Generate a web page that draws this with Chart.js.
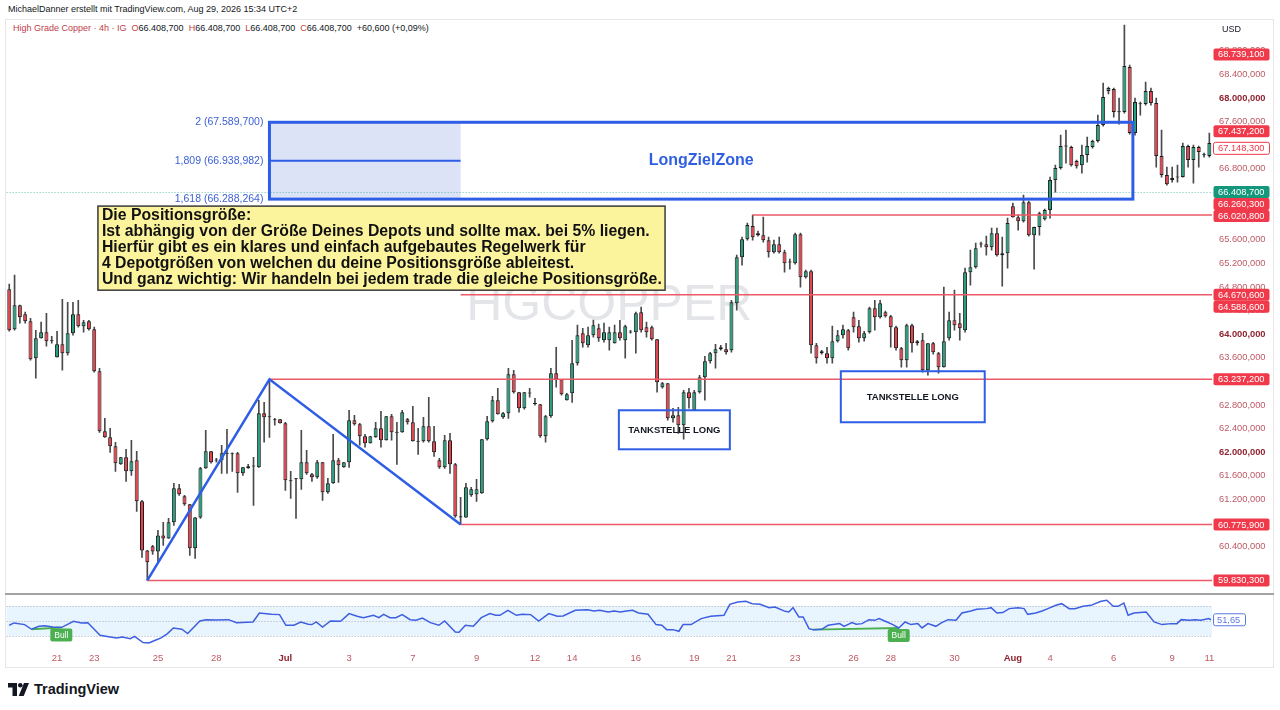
<!DOCTYPE html>
<html lang="de">
<head>
<meta charset="utf-8">
<title>HGCOPPER 4h</title>
<script src="https://cdn.jsdelivr.net/npm/chart.js@4.4.1/dist/chart.umd.min.js"></script>
<style>
  body { margin: 0; width: 1280px; height: 710px; background: #fff; position: relative; overflow: hidden;
         font-family: "Liberation Sans", Arial, sans-serif; color: #131722; }
  .abs { position: absolute; }
  #frame { left: 5px; top: 19px; width: 1269px; height: 649px; border: 1px solid #e6e6e6; box-sizing: border-box; }
  #credit { left: 8px; top: 4px; font-size: 9px; white-space: nowrap; }
  #legend { left: 13px; top: 23px; font-size: 9px; white-space: nowrap; }
  #legend .r { color: #c2404a; }
  #legend .g { margin-left: 5px; }
  #main { left: 0; top: 0; }
  #sep { left: 5px; top: 593px; width: 1269px; height: 2px; background: #a3a3a3; }
  #rsi { left: 0; top: 594px; }
  #brand { left: 8px; top: 681px; display: flex; align-items: center; gap: 5px; font-weight: bold; font-size: 14.5px; }
</style>
</head>
<body>
<div id="frame" class="abs"></div>
<div id="credit" class="abs">MichaelDanner erstellt mit TradingView.com, Aug 29, 2026 15:34 UTC+2</div>
<div id="legend" class="abs"></div>
<canvas id="main" class="abs" width="1280" height="605"></canvas>
<div id="sep" class="abs"></div>
<canvas id="rsi" class="abs" width="1280" height="76"></canvas>
<div id="brand" class="abs">
  <svg width="21" height="13" viewBox="0 0 21 13"><path d="M0 0h9v13h-4.5v-8.5h-4.5z" fill="#131722"/><circle cx="12.3" cy="2.3" r="2.3" fill="#131722"/><path d="M16 0h5l-5.3 13h-5z" fill="#131722"/></svg>
  <span>TradingView</span>
</div>
<script>
// 4h candles, 21 Jun - 11 Aug
const opens = [
  64763, 64085, 64492, 64339, 64220, 63593, 63932, 64034, 63898, 63610,
  63830, 63678, 64017, 64339, 64136, 64220, 64085, 63373, 62356, 62254,
  62102, 61797, 61915, 61678, 61865, 61170, 60339, 60407, 60322, 60593,
  60542, 60814, 61390, 61254, 61119, 60373, 60898, 61729, 62017, 61865,
  61865, 61983, 61983, 61983, 61644, 61729, 61763, 61746, 62661, 62610,
  62559, 62559, 62492, 61525, 61559, 61542, 61831, 61627, 61576, 61831,
  61322, 61475, 61865, 61746, 61831, 62543, 62475, 62271, 62153, 62254,
  62407, 62204, 62610, 62339, 62339, 62559, 62509, 62187, 62187, 62441,
  62187, 61865, 61746, 62204, 61797, 60915, 60898, 61271, 61288, 61305,
  62221, 62526, 62881, 62593, 62661, 63322, 63017, 62746, 63000, 62830,
  62814, 62271, 62610, 63339, 63237, 62881, 63000, 63509, 64017, 63813,
  63983, 64100, 63898, 63898, 63847, 64034, 63898, 64034, 64034, 64373,
  64119, 64119, 63915, 63102, 63170, 62577, 62627, 62458, 63017, 62712,
  63017, 63271, 63543, 63678, 63746, 63746, 63729, 64525, 65305, 65610,
  65831, 65712, 65678, 65593, 65390, 65525, 65390, 65220, 65204, 65695,
  64966, 65068, 63814, 63678, 63678, 63593, 63881, 63983, 64068, 64288,
  64136, 63932, 64034, 64441, 64288, 64373, 64305, 64119, 63763, 63559,
  64153, 63881, 63898, 63390, 63847, 63678, 63441, 63932, 64237, 64187,
  64068, 65051, 65136, 65525, 65525, 65475, 65712, 65339, 65373, 66169,
  65983, 65915, 66237, 65678, 65814, 65949, 66102, 66610, 66814, 67186,
  67170, 66932, 66864, 67034, 67170, 67271, 67542, 68119, 68153, 67763,
  67763, 68525, 67407, 67898, 67898, 68119, 67915, 67017, 66695, 66610,
  66661, 66661, 67186, 66949, 67170, 67034, 67017
];
const highs = [
  64848, 65000, 64492, 64373, 64271, 64068, 64204, 64356, 63966, 64051,
  64593, 64542, 64542, 64576, 64237, 64237, 64119, 63424, 62577, 62407,
  62170, 61915, 62051, 62204, 62017, 61186, 60339, 60424, 60678, 60814,
  60882, 61475, 61458, 61271, 61119, 60898, 61746, 62373, 62017, 61898,
  62119, 62390, 61990, 62000, 61746, 61797, 61915, 62881, 62847, 63237.2,
  62577, 62559, 62509, 61678, 61559, 62373, 62034, 61644, 61865, 61831,
  61559, 62305, 61898, 61831, 62712, 62627, 62492, 62305, 62271, 62509,
  62695, 62610, 62644, 62509, 62712, 62577, 62780, 62407, 62593, 62932,
  62441, 61898, 62288, 62322, 61814, 61237, 61475, 61407, 61542, 62221,
  62610, 62949, 63085, 62678, 63424, 63390, 63017, 63017, 63085, 62915,
  62814, 62627, 63424, 63780, 63237, 63000, 63898, 64153, 64100, 64120,
  64240, 64170, 64187, 64119, 64153, 64237, 64153, 64068, 64373, 64458,
  64204, 64136, 63915, 63187, 63170, 62746, 62763, 63051, 63085, 63051,
  63305, 63627, 63695, 63830, 63813, 63847, 64576, 65339, 65644, 65882,
  66017, 65746, 65983, 65644, 65593, 65644, 65424, 65271, 65712, 65712,
  65085, 65085, 63847, 63729, 63780, 64136, 64068, 64153, 64085, 64373,
  64237, 64051, 64458, 64576, 64576, 64390, 64322, 64136, 63780, 64170,
  64170, 63898, 64017, 63847, 63864, 63695, 64797, 64373, 64746, 64356,
  65119, 65424, 65542, 65559, 65661, 65797, 65797, 65644, 65966, 66220,
  66017, 66356, 66254, 65814, 66068, 66119, 66661, 66864, 67373, 67458,
  67186, 66949, 67203, 67339, 67288, 67712, 68254, 68186, 68170, 68000,
  69237, 68559, 68000, 67932, 68271, 68170, 68000, 67458, 66830, 66830,
  66864, 67237, 67203, 67203, 67186, 67068, 67407
];
const lows = [
  64051, 64068, 64187, 64187, 63559, 63254, 63932, 63797, 63847, 63610,
  63390, 63644, 63983, 64119, 64034, 64068, 63356, 62339, 62254, 62000,
  61678, 61797, 61508, 61610, 61000, 60220, 59830.3, 60271, 60136, 60424,
  60542, 60763, 61271, 61102, 60254, 60204, 60882, 61729, 61814, 61831,
  61644, 61644, 61678, 61322, 61610, 61729, 61102, 61746, 62170, 62254,
  62458, 62492, 61356, 61220, 60882, 61373, 61627, 61508, 61559, 61186,
  61305, 61475, 61492, 61746, 61746, 62458, 62119, 62085, 62153, 62254,
  62085, 62204, 62204, 61797, 62339, 62475, 62187, 61966, 62170, 62170,
  61932, 61729, 61729, 61644, 60898, 60775.9, 60898, 61254, 61170, 61305,
  62204, 62509, 62644, 62576, 62576, 63000, 62678, 62729, 62932, 62797,
  62254, 62170, 62593, 63102, 62966, 62881, 62847, 63475, 63780, 63780,
  63950, 63880, 63864, 63729, 63847, 63898, 63593, 64017, 63678, 64034,
  63949, 63898, 63017, 63085, 62543, 62509, 62322, 62221, 62746, 62712,
  63000, 62881, 63509, 63424, 63729, 63661, 63695, 64407, 65170, 65593,
  65593, 65661, 65559, 65305, 65373, 65373, 65051, 65102, 65187, 64797,
  64949, 63678, 63509, 63661, 63509, 63509, 63864, 63932, 63729, 64034,
  63864, 63881, 64017, 64068, 64271, 64288, 63780, 63729, 63441, 63441,
  63695, 63813, 63356, 63305, 63661, 63339, 63441, 63898, 64068, 63898,
  64034, 64831, 65119, 65475, 65339, 65424, 65322, 64814, 65119, 65983,
  65763, 65898, 65661, 65102, 65678, 65932, 65966, 66407, 66797, 66898,
  66847, 66814, 66729, 66915, 67153, 67254, 67525, 68068, 67678, 67559,
  67746, 67390, 67373, 67712, 67881, 67881, 66830, 66661, 66525, 66576,
  66576, 66661, 66830, 66559, 66830, 67000, 67000
];
const closes = [
  64068, 64492, 64288, 64220, 63576, 63932, 64034, 63881, 63881, 63830,
  63678, 64017, 64339, 64136, 64204, 64085, 63373, 62356, 62254, 62102,
  61814, 61915, 61678, 61848, 61170, 60339, 60136, 60322, 60593, 60542,
  60814, 61390, 61288, 61119, 60373, 60898, 61729, 62017, 61831, 61860,
  61983, 61975, 61966, 61644, 61746, 61763, 61760, 62661, 62593, 62593,
  62542, 62492, 61525, 61508, 61542, 61831, 61644, 61576, 61831, 61322,
  61475, 61865, 61780, 61831, 62543, 62475, 62271, 62153, 62271, 62407,
  62204, 62610, 62339, 62330, 62678, 62509, 62187, 62180, 62441, 62187,
  62000, 61746, 62204, 61797, 60915, 60898, 61407, 61373, 61373, 62221,
  62526, 62881, 62644, 62661, 63322, 63017, 62746, 63017, 62995, 62820,
  62271, 62610, 63339, 63237, 62983, 62983, 63509, 63983, 63847, 63983,
  64153, 63932, 64034, 64034, 64034, 63932, 64136, 64030, 64356, 64068,
  64034, 63915, 63187, 63170, 62577, 62627, 62458, 63017, 62915, 63017,
  63271, 63543, 63678, 63746, 63780, 63695, 64542, 65305, 65610, 65848,
  65644, 65678, 65593, 65390, 65525, 65390, 65204, 65215, 65695, 64966,
  65068, 63814, 63593, 63712, 63593, 63881, 63983, 64085, 63763, 64119,
  63932, 64017, 64441, 64288, 64525, 64305, 64119, 63763, 63559, 64153,
  63847, 63847, 63390, 63847, 63695, 63441, 63881, 64237, 64153, 64102,
  65051, 65136, 65458, 65520, 65475, 65712, 65339, 65373, 65882, 65983,
  65915, 66237, 65678, 65814, 66051, 66102, 66610, 66814, 67186, 67180,
  66864, 66847, 67034, 67186, 67271, 67542, 68017, 68170, 67763, 67758,
  68542, 67407, 67932, 67893, 68119, 67915, 67017, 66695, 66542, 66644,
  66656, 67186, 66949, 67170, 67085, 67030, 67237
];

// RSI(14) read at points along the line: candle position and value
const rsiIdx = [
  0, 0.9, 2.9, 4.2, 5.6, 6.7, 8.2, 9.8, 12.1, 13.6, 14.8, 17.1, 19.0, 20.2, 21.3, 22.8,
  23.6, 25.2, 26.3, 27.5, 28.6, 29.8, 30.9, 32.5, 33.6, 35.9, 37.1, 39.0, 41.3, 42.8, 45.9, 47.1,
  49.4, 50.9, 52.1, 53.6, 54.9, 56.3, 57.0, 57.8, 59.0, 60.5, 62.4, 64.0, 65.5, 66.7, 68.6, 69.6,
  70.5, 71.7, 72.8, 74.0, 75.5, 76.6, 77.8, 79.3, 80.9, 82.0, 84.0, 84.7, 85.9, 87.4, 88.9, 90.5,
  91.6, 92.4, 93.9, 95.5, 96.6, 98.2, 99.7, 101.6, 103.2, 104.3, 106.6, 108.9, 110.1, 111.2, 112.8, 113.9,
  115.1, 116.2, 117.4, 118.5,
  120.3, 121.8, 122.9, 123.8, 125.0, 126.1, 126.9, 128.4, 130.3, 132.1, 134.6, 135.7, 137.2, 138.7, 139.9, 141.4,
  143.1, 144.2, 146.1, 146.8, 147.6, 148.7, 149.5, 150.6, 151.4, 153.0, 154.2, 156.4, 157.2, 158.7, 159.5, 160.6,
  161.9, 163.0, 163.8, 165.3, 166.4, 167.5, 168.7, 169.8, 171.1, 171.9, 173.0, 174.5, 175.6, 176.8, 178.3, 179.4,
  181.1, 182.2, 184.1, 184.9, 186.0, 187.1, 188.3, 190.0, 191.1, 191.8, 193.3, 194.5, 195.6, 197.1, 198.2, 199.6,
  200.7, 202.2, 203.7, 205.6, 206.7, 207.9, 208.8, 209.9, 210.7, 211.8, 214.1, 215.6, 217.1, 218.8, 219.9, 220.7,
  222.2, 223.3, 224.4, 225.9, 226.3
];
const rsiVal = [
  44.3, 47.4, 45.2, 39.0, 42.9, 43.8, 42.0, 41.2, 49.6, 47.4, 47.8, 30.9, 28.7, 27.4, 28.7, 26.5,
  29.6, 21.2, 20.7, 24.3, 27.4, 33.2, 40.7, 39.0, 33.2, 50.0, 51.8, 51.4, 51.8, 47.8, 48.7, 60.7,
  58.9, 58.5, 44.3, 44.3, 48.7, 45.6, 45.2, 48.7, 42.0, 50.0, 49.6, 59.8, 56.3, 54.5, 57.6, 54.5,
  58.9, 54.5, 54.5, 58.5, 51.8, 50.9, 54.0, 47.8, 44.3, 50.0, 35.4, 34.9, 44.3, 42.9, 54.5, 59.8,
  57.6, 57.6, 64.2, 57.6, 58.9, 58.5, 50.0, 59.8, 56.3, 56.7, 64.2, 65.1, 63.4, 64.2, 62.0, 63.4,
  62.0, 63.4, 64.2, 60.7,
  58.9, 45.2, 44.3, 38.5, 38.5, 36.3, 45.2, 45.2, 53.2, 56.3, 57.6, 72.3, 75.4, 76.2, 73.1, 72.3,
  67.8, 68.7, 62.9, 62.0, 67.8, 55.4, 55.4, 39.8, 38.5, 38.9, 44.3, 46.5, 42.9, 47.8, 45.6, 46.5,
  51.8, 50.9, 53.2, 48.7, 45.2, 40.7, 48.7, 45.2, 46.5, 40.7, 46.5, 42.9, 47.8, 51.8, 50.9, 60.7,
  63.4, 65.6, 66.5, 67.8, 60.7, 61.2, 66.5, 67.8, 66.5, 58.9, 60.7, 63.4, 66.5, 70.9, 73.1, 66.5,
  66.5, 69.6, 70.9, 76.2, 77.6, 69.6, 69.6, 74.0, 57.6, 60.7, 62.0, 48.7, 45.2, 46.5, 46.5, 51.8,
  50.9, 51.8, 50.9, 53.2, 51.65
];
const rsiBand = [70, 50, 30];

// bullish divergence segments on the RSI: [idx, rsi] from -> to
const bullFrom = [[4.2, 39.0], [151.4, 38.5]];
const bullTo = [[9.8, 41.2], [167.5, 40.7]];

// date axis
const dayIdx = [9, 16, 28, 39, 52, 64, 76, 88, 99, 106, 118, 129, 136, 148, 159, 166, 178, 189, 196, 208, 219, 226];
const dayText = ['21', '23', '25', '28', 'Jul', '3', '7', '9', '12', '14', '16', '19', '21', '23', '26', '28', '30', 'Aug', '4', '6', '9', '11'];

// drawings
const zigIdx = [26, 49, 85];
const zigPrices = [59830.3, 63237.2, 60775.9];
const rayStart = [140, 85, 49, 85, 26];
const rayPrices = [66020.8, 64670.6, 63237.2, 60775.9, 59830.3];
const fibLevels = ['2', '1,809', '1,618'];
const fibPrices = [67589.7, 66938.982, 66288.264];
const fibIdx = [49, 85, 211.6];          // start, end of shaded part, end of zone
const zoneLabel = 'LongZielZone';
const tankIdx = [[114.8, 135.7], [156.6, 183.7]];
const tankPrices = [[62712, 62051], [63373, 62509]];
const tankLabel = 'TANKSTELLE LONG';
const noteIdx = [16.7, 123.5];
const notePrices = [66170, 64746];
const noteLines = [
  'Die Positionsgröße:',
  'Ist abhängig von der Größe Deines Depots und sollte max. bei 5% liegen.',
  'Hierfür gibt es ein klares und einfach aufgebautes Regelwerk für',
  '4 Depotgrößen von welchen du deine Positionsgröße ableitest.',
  'Und ganz wichtig: Wir handeln bei jedem trade die gleiche Positionsgröße.'
];

// price scale
const priceStep = 400;
const priceTickRange = [60000, 69200];
const hiddenTicks = [60000, 69200];
const tagPrices = [68739.1, 67437.2, 67148.3, 66408.7, 66260.3, 66020.8, 64670.6, 64588.6, 63237.2, 60775.9, 59830.3];
const tagKinds = ['red', 'red', 'outline', 'green', 'red', 'red', 'red', 'red', 'red', 'red', 'red'];
const lastPrice = 66408.7;

// legend
const symbolTitle = 'High Grade Copper · 4h · IG';
const watermark = 'HGCOPPER';
const lastBar = [66408.7, 66408.7, 66408.7, 66408.7];
const lastChange = 60.6;
const lastChangePct = 0.09;

const FONT = '"Liberation Sans", Arial, sans-serif';
const GREEN = '#26a17f';
const RED = '#e8434f';
const TAG_RED = '#f0394a';
const TAG_GREEN = '#13987b';
const BLUE = '#2f5ee6';
const lastIdx = opens.length - 1;

const priceTicks = [];
for (let v = priceTickRange[0]; v <= priceTickRange[1]; v += priceStep) priceTicks.push(v);

function fmt(v, d) {
  const [int, dec] = Math.abs(v).toFixed(d).split('.');
  return (v < 0 ? '-' : '') + int.replace(/\B(?=(\d{3})+(?!\d))/g, '.') + (dec ? ',' + dec : '');
}

document.getElementById('legend').innerHTML =
  `<span class="r">${symbolTitle}</span>` +
  ['O', 'H', 'L', 'C'].map((k, j) => `<span class="g"><span class="r">${k}</span>${fmt(lastBar[j], 3)}</span>`).join('') +
  `<span class="g">+${fmt(lastChange, 3)} (+${fmt(lastChangePct, 2)}%)</span>`;

const drawings = {
  id: 'drawings',
  beforeDatasetsDraw(chart) {
    const {ctx, chartArea: a, scales: {x, y}} = chart;
    ctx.save();
    ctx.font = `50px ${FONT}`;
    ctx.fillStyle = 'rgba(131,137,150,0.22)';
    ctx.textAlign = 'center';
    ctx.textBaseline = 'middle';
    ctx.fillText(watermark, (a.left + a.right) / 2, (a.top + a.bottom) / 2);

    const x0 = x.getPixelForValue(fibIdx[0]);
    const x1 = x.getPixelForValue(fibIdx[1]);
    const yTop = y.getPixelForValue(fibPrices[0]);
    const yBot = y.getPixelForValue(fibPrices[2]);
    ctx.fillStyle = '#dde3f6';
    ctx.fillRect(x0, yTop, x1 - x0, yBot - yTop);

    const yp = Math.round(y.getPixelForValue(lastPrice)) + 0.5;
    ctx.strokeStyle = 'rgba(8,153,129,0.6)';
    ctx.lineWidth = 1;
    ctx.setLineDash([1, 2]);
    ctx.beginPath();
    ctx.moveTo(a.left, yp);
    ctx.lineTo(a.right, yp);
    ctx.stroke();
    ctx.restore();
  },
  afterDatasetsDraw(chart) {
    const {ctx, scales: {x, y}} = chart;
    ctx.save();
    const fx0 = x.getPixelForValue(fibIdx[0]);
    const fxm = x.getPixelForValue(fibIdx[1]);
    const fx1 = x.getPixelForValue(fibIdx[2]);
    const fy = fibPrices.map(p => y.getPixelForValue(p));
    ctx.strokeStyle = BLUE;
    ctx.lineWidth = 2;
    ctx.beginPath();
    ctx.moveTo(fx0, fy[1]);
    ctx.lineTo(fxm, fy[1]);
    ctx.stroke();
    ctx.lineWidth = 3;
    ctx.strokeRect(fx0, fy[0], fx1 - fx0, fy[2] - fy[0]);

    ctx.font = `10.5px ${FONT}`;
    ctx.fillStyle = '#3b5fd4';
    ctx.textAlign = 'right';
    ctx.textBaseline = 'middle';
    fibLevels.forEach((lv, k) => ctx.fillText(`${lv} (${fmt(fibPrices[k], 3)})`, fx0 - 6, fy[k]));

    ctx.font = `bold 16px ${FONT}`;
    ctx.fillStyle = '#2f5fe0';
    ctx.textAlign = 'center';
    ctx.fillText(zoneLabel, (fx0 + fx1) / 2, fy[1]);

    // Tankstelle boxes
    tankIdx.forEach((r, k) => {
      const bx0 = x.getPixelForValue(r[0]), bx1 = x.getPixelForValue(r[1]);
      const by0 = y.getPixelForValue(tankPrices[k][0]), by1 = y.getPixelForValue(tankPrices[k][1]);
      ctx.strokeStyle = BLUE;
      ctx.lineWidth = 2;
      ctx.strokeRect(bx0, by0, bx1 - bx0, by1 - by0);
      ctx.font = `bold 9.5px ${FONT}`;
      ctx.fillStyle = '#131722';
      ctx.textAlign = 'center';
      ctx.fillText(tankLabel, (bx0 + bx1) / 2, (by0 + by1) / 2 + 0.5);
    });

    // note box
    const nx0 = x.getPixelForValue(noteIdx[0]), nx1 = x.getPixelForValue(noteIdx[1]);
    const ny0 = y.getPixelForValue(notePrices[0]), ny1 = y.getPixelForValue(notePrices[1]);
    ctx.fillStyle = '#fcf49d';
    ctx.fillRect(nx0, ny0, nx1 - nx0, ny1 - ny0);
    ctx.strokeStyle = '#3a3a3a';
    ctx.lineWidth = 1.5;
    ctx.strokeRect(nx0, ny0, nx1 - nx0, ny1 - ny0);
    ctx.font = `bold 15.8px ${FONT}`;
    ctx.fillStyle = '#111';
    ctx.textAlign = 'left';
    noteLines.forEach((line, k) => ctx.fillText(line, nx0 + 4, ny0 + 10 + k * 16));
    ctx.restore();
  },
  afterDraw(chart) {
    const {ctx, chartArea: a, scales: {y}} = chart;
    ctx.save();
    ctx.font = `9.3px ${FONT}`;
    ctx.textBaseline = 'middle';
    ctx.textAlign = 'left';
    const order = tagPrices.map((p, k) => k).sort((p, q) => tagPrices[q] - tagPrices[p]);
    let prev = -Infinity;
    order.forEach(k => {
      const py = Math.max(y.getPixelForValue(tagPrices[k]), prev + 12);
      prev = py;
      const kind = tagKinds[k];
      ctx.fillStyle = kind === 'green' ? TAG_GREEN : kind === 'outline' ? '#fff' : TAG_RED;
      ctx.beginPath();
      ctx.roundRect(a.right + 1.5, py - 6, 56, 12, 2);
      ctx.fill();
      if (kind === 'outline') {
        ctx.strokeStyle = TAG_RED;
        ctx.lineWidth = 1;
        ctx.stroke();
      }
      ctx.fillStyle = kind === 'outline' ? TAG_RED : '#fff';
      ctx.fillText(fmt(tagPrices[k], 3), a.right + 6, py + 0.5);
    });
    ctx.fillStyle = '#131722';
    ctx.font = `9px ${FONT}`;
    ctx.fillText('USD', a.right + 10, 30);
    ctx.restore();
  }
};

new Chart(document.getElementById('main'), {
  type: 'bar',
  data: {
    datasets: [
      {
        label: 'wick',
        data: opens.map((o, i) => ({x: i, y: [lows[i], highs[i]]})),
        backgroundColor: '#4a4a4a',
        barThickness: 1,
        grouped: false,
        order: 3
      },
      {
        label: 'body',
        data: opens.map((o, i) => ({x: i, y: [o, closes[i]]})),
        backgroundColor: opens.map((o, i) => closes[i] >= o ? GREEN : RED),
        borderColor: '#1d1d1d',
        borderWidth: 1,
        borderSkipped: false,
        minBarLength: 1,
        barPercentage: 0.75,
        categoryPercentage: 1,
        grouped: false,
        order: 2
      },
      {
        type: 'line',
        label: 'zigzag',
        data: zigIdx.map((v, k) => ({x: v, y: zigPrices[k]})),
        borderColor: BLUE,
        borderWidth: 2.5,
        pointRadius: 0,
        order: 1
      },
      ...rayPrices.map((p, k) => ({
        type: 'line',
        label: 'ray' + k,
        data: [{x: rayStart[k], y: p}, {x: lastIdx + 0.5, y: p}],
        borderColor: '#ec5a67',
        borderWidth: 1.5,
        pointRadius: 0,
        order: 1
      }))
    ]
  },
  options: {
    responsive: false,
    animation: false,
    events: [],
    layout: { padding: { left: 6.6, right: 0, top: 20, bottom: 3 } },
    plugins: { legend: { display: false }, tooltip: { enabled: false } },
    scales: {
      x: { type: 'linear', display: false, min: -0.5, max: lastIdx + 0.5, offset: false },
      y: {
        position: 'right',
        min: 59627,
        max: 69322,
        grid: { display: false, drawTicks: false },
        border: { display: false },
        afterFit: s => { s.width = 68; },
        afterBuildTicks: s => { s.ticks = priceTicks.map(v => ({ value: v })); },
        ticks: {
          padding: 7,
          color: c => c.tick && c.tick.value % 2000 === 0 ? '#8f2330' : '#bd5a64',
          font: c => ({ family: FONT, size: 9.3, weight: c.tick && c.tick.value % 2000 === 0 ? 'bold' : 'normal' }),
          callback: v => hiddenTicks.includes(v) ? '' : fmt(v, 3)
        }
      }
    }
  },
  plugins: [drawings]
});

const rsiDecor = {
  id: 'rsiDecor',
  beforeDatasetsDraw(chart) {
    const {ctx, chartArea: a, scales: {y}} = chart;
    ctx.save();
    const yHi = y.getPixelForValue(rsiBand[0]), yLo = y.getPixelForValue(rsiBand[2]);
    ctx.fillStyle = 'rgba(33,150,243,0.1)';
    ctx.fillRect(a.left, yHi, a.right - a.left, yLo - yHi);
    ctx.strokeStyle = '#a9aebb';
    ctx.lineWidth = 1;
    ctx.setLineDash([1, 2]);
    rsiBand.forEach(v => {
      const py = Math.round(y.getPixelForValue(v)) + 0.5;
      ctx.beginPath();
      ctx.moveTo(a.left, py);
      ctx.lineTo(a.right, py);
      ctx.stroke();
    });
    ctx.restore();
  },
  afterDatasetsDraw(chart) {
    const {ctx, scales: {x, y}} = chart;
    ctx.save();
    ctx.font = `8.5px ${FONT}`;
    ctx.textAlign = 'center';
    ctx.textBaseline = 'middle';
    bullTo.forEach(p => {
      const cx = x.getPixelForValue(p[0]);
      const top = y.getPixelForValue(p[1]) + 1;
      ctx.fillStyle = '#4caf50';
      ctx.beginPath();
      ctx.roundRect(cx - 11, top, 22, 13, 2);
      ctx.fill();
      ctx.fillStyle = '#fff';
      ctx.fillText('Bull', cx, top + 7);
    });
    ctx.restore();
  },
  afterDraw(chart) {
    const {ctx, chartArea: a, scales: {y}} = chart;
    ctx.save();
    const v = rsiVal[rsiVal.length - 1];
    const py = y.getPixelForValue(v);
    ctx.fillStyle = '#fff';
    ctx.strokeStyle = '#5b78e2';
    ctx.lineWidth = 1;
    ctx.beginPath();
    ctx.roundRect(a.right + 1.5, py - 6, 32, 12, 2);
    ctx.fill();
    ctx.stroke();
    ctx.font = `9.3px ${FONT}`;
    ctx.fillStyle = '#5b78e2';
    ctx.textBaseline = 'middle';
    ctx.fillText(fmt(v, 2), a.right + 5, py + 0.5);
    ctx.restore();
  }
};

new Chart(document.getElementById('rsi'), {
  type: 'line',
  data: {
    datasets: [
      {
        label: 'RSI',
        data: rsiIdx.map((v, k) => ({x: v, y: rsiVal[k]})),
        borderColor: '#3d5fe0',
        borderWidth: 1.5,
        pointRadius: 0,
        order: 1
      },
      ...bullFrom.map((b, k) => ({
        label: 'bull' + k,
        data: [{x: b[0], y: b[1]}, {x: bullTo[k][0], y: bullTo[k][1]}],
        borderColor: '#4caf50',
        borderWidth: 2,
        pointRadius: 0,
        order: 2
      }))
    ]
  },
  options: {
    responsive: false,
    animation: false,
    events: [],
    layout: { padding: { left: 6.6, right: 68, top: 3, bottom: 0 } },
    plugins: { legend: { display: false }, tooltip: { enabled: false } },
    scales: {
      x: {
        type: 'linear',
        min: -0.5,
        max: lastIdx + 0.5,
        grid: { display: false, drawTicks: false },
        border: { display: false },
        afterFit: s => { s.height = 22; },
        afterBuildTicks: s => { s.ticks = dayIdx.map(v => ({ value: v })); },
        ticks: {
          autoSkip: false,
          maxRotation: 0,
          padding: 5,
          color: c => /^[A-Z]/.test(dayText[c.index]) ? '#8f2330' : '#bd5a64',
          font: c => ({ family: FONT, size: 9.5, weight: /^[A-Z]/.test(dayText[c.index]) ? 'bold' : 'normal' }),
          callback: (v, i) => dayText[i]
        }
      },
      y: { display: false, min: 14, max: 82 }
    }
  },
  plugins: [rsiDecor]
});
</script>
</body>
</html>
